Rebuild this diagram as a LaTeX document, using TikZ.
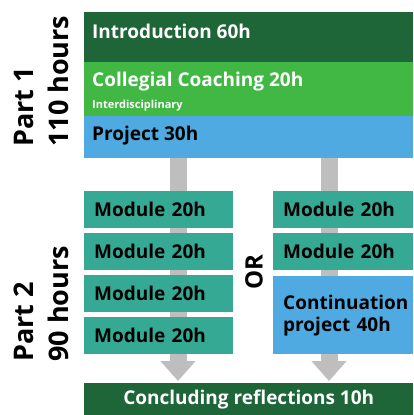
\documentclass[tikz,border=0pt]{standalone}
\usepackage{fontspec}
\setmainfont{Open Sans}
\usetikzlibrary{arrows.meta,backgrounds}

\definecolor{introgreen}{HTML}{1E6537}
\definecolor{coachgreen}{HTML}{41B843}
\definecolor{projblue}{HTML}{4EAAE0}
\definecolor{modteal}{HTML}{36A994}
\definecolor{shaftgrey}{HTML}{BEBEBE}

\tikzset{
  bar/.style={fill=#1, anchor=north west, inner sep=0pt, minimum width=329},
  modbox/.style={fill=modteal, anchor=north west, inner xsep=10pt, inner ysep=0pt,
    align=left, font=\bfseries\fontsize{19}{22}\selectfont},
  boxtext/.style={anchor=base west, inner sep=0pt, font=\bfseries\fontsize{19}{22}\selectfont},
  sidetext/.style={rotate=90, anchor=west, align=left, inner sep=0pt,
    font=\bfseries\fontsize{27}{35}\selectfont},
  shaft/.style={line width=17pt, shaftgrey, -{Triangle[width=34pt,length=20pt]}},
}

\newcommand{\modul}[4]{
  \node[modbox, text width=#4-20, minimum height=37] (#1) at (#2,#3) {Module 20h};
}

\begin{document}
\begin{tikzpicture}[x=1pt,y=-1pt]
  \useasboundingbox (0,0) rectangle (413,415);

  % Part 1
  % ------
  \node[bar=introgreen, minimum height=50] (intro) at (84,12) {};
  \node[boxtext, white] (introtxt) at (92,38) {Introduction 60h};

  \node[bar=coachgreen, minimum height=54] (coach) at (84,62) {};
  \node[boxtext, white] (coachtxt) at (92,86) {Collegial Coaching 20h};
  \node[boxtext, white, font=\bfseries\fontsize{11}{13}\selectfont] (interdisc) at (92,108) {Interdisciplinary};

  \node[bar=projblue, minimum height=42] (proj) at (84,116) {};
  \node[boxtext] (projtxt) at (92,140) {Project 30h};

  \node[sidetext] (part1) at (41,147) {Part 1\\110 hours};

  % Part 2
  % ------
  \foreach \i [evaluate=\i as \y using int(191+42*(\i-1))] in {1, ..., 4}
  \modul{ml\i}{84}{\y}{149};

  \foreach \i [evaluate=\i as \y using int(191+42*(\i-1))] in {1, 2}
  \modul{mr\i}{273}{\y}{140};

  \node[modbox, fill=projblue, text width=120, minimum height=78] (contin) at (273,276)
    {Continuation\\project 40h};

  \node[rotate=90, inner sep=0pt, font=\bfseries\fontsize{24}{24}\selectfont] (or) at (254,272) {OR};

  \node[sidetext] (part2) at (41,362) {Part 2\\90 hours};

  % End
  % ---
  \node[bar=introgreen, minimum height=32, text=white,
    font=\bfseries\fontsize{19}{22}\selectfont] (concl) at (84,383) {Concluding reflections 10h};

  % Shafts
  % ------
  \coordinate (lcol) at (178,0);
  \coordinate (rcol) at (329,0);
  \begin{scope}[on background layer]
    \draw[shaft, shorten >=2pt] (proj.south -| lcol) -- (concl.north -| lcol);
    \draw[shaft, shorten >=2pt] (proj.south -| rcol) -- (concl.north -| rcol);
  \end{scope}
\end{tikzpicture}
\end{document}
